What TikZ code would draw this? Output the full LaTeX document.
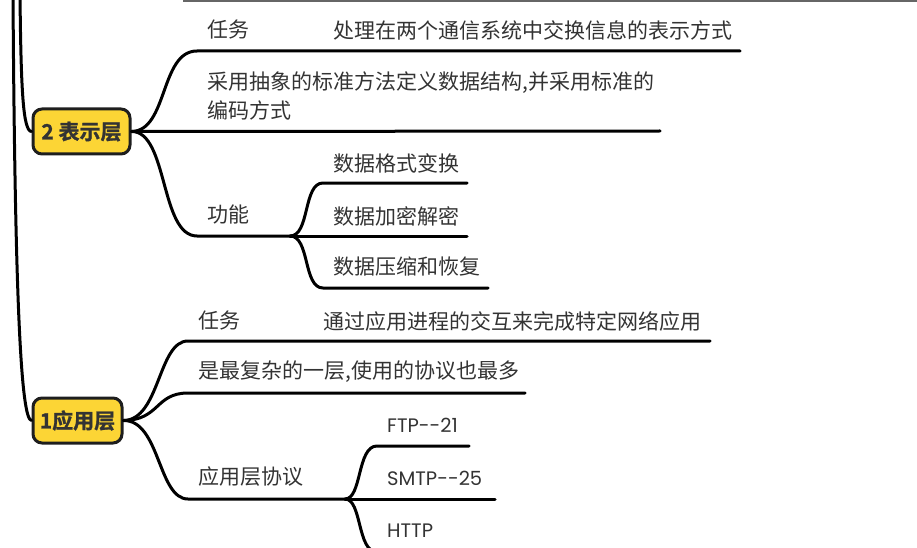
\documentclass[tikz,border=0pt]{standalone}
\usepackage{fontspec}
\setmainfont{Noto Sans CJK SC}
\newfontfamily\latinf{Poppins}
\newfontfamily\boldf{Noto Sans CJK SC Bold}[FakeBold=1.2]
\definecolor{txt}{HTML}{333333}
\definecolor{boxfill}{HTML}{FCD535}
\definecolor{boxline}{HTML}{1E1E1E}
\begin{document}
\begin{tikzpicture}[x=1pt,y=-1pt,
  lbl/.style={anchor=west,inner sep=0pt,text=txt,font=\fontsize{21}{27}\selectfont},
  lat/.style={anchor=west,inner sep=0pt,text=txt,font=\latinf\fontsize{19.5}{24}\selectfont},
  topic/.style={draw=boxline,line width=3pt,fill=boxfill,rounded corners=9pt,inner sep=0pt,
    text=txt,font=\boldf\fontsize{21}{24}\selectfont},
  br/.style={line width=3pt,black,line cap=round},
]
\useasboundingbox (0,0) rectangle (917,548);
\draw[gray!80!black,line width=2pt] (183,0.8) -- (917,0.8);

% topic boxes
\node[topic,minimum width=97pt,minimum height=45pt] (p2) at (81.5,131.5) {2 表示层};
\node[topic,minimum width=89pt,minimum height=45pt] (p1) at (77.5,420.5) {1应用层};

% left trunk lines
\coordinate (tA) at (20,-5);
\coordinate (tB) at (13,-5);
\draw[br] (tA) .. controls (21,90) and (23,131) .. (p2.west);
\draw[br] (tB) .. controls (15,300) and (21,420) .. (p1.west);

% ---------- 2 表示层 ----------
\coordinate (a1) at (197,51);  \coordinate (a1e) at (740,51);
\coordinate (a2e) at (660,131);
\coordinate (a3) at (197,236); \coordinate (f) at (290,236);
\draw[br] (p2.east) .. controls (168,131) and (160,51) .. (a1) -- (a1e);
\draw[br] (p2.east) -- (a2e);
\draw[br] (p2.east) .. controls (168,131) and (160,236) .. (a3) -- (f);

\node[lbl] (t1) at (207,30) {任务};
\node[lbl] (t1c) at (333,30) {处理在两个通信系统中交换信息的表示方式};
\node[lbl] (t2) at (207,83) {采用抽象的标准方法定义数据结构,并采用标准的};
\node[lbl] (t2b) at (207,110) {编码方式};
\node[lbl] (t3) at (207,215) {功能};

\coordinate (g1) at (323,183); \coordinate (g1e) at (467,183);
\coordinate (g2e) at (467,236);
\coordinate (g3) at (323,288); \coordinate (g3e) at (488,288);
\draw[br] (f) .. controls (310,236) and (303,183) .. (g1) -- (g1e);
\draw[br] (f) -- (g2e);
\draw[br] (f) .. controls (310,236) and (303,288) .. (g3) -- (g3e);
\node[lbl] (u1) at (333,163) {数据格式变换};
\node[lbl] (u2) at (333,216) {数据加密解密};
\node[lbl] (u3) at (333,267) {数据压缩和恢复};

% ---------- 1 应用层 ----------
\coordinate (b1) at (188,341); \coordinate (b1e) at (710,341);
\coordinate (b2) at (188,393); \coordinate (b2e) at (525,393);
\coordinate (b3) at (188,499); \coordinate (h) at (345,499);
\draw[br] (p1.east) .. controls (160,420) and (158,341) .. (b1) -- (b1e);
\draw[br] (p1.east) .. controls (160,420) and (155,393) .. (b2) -- (b2e);
\draw[br] (p1.east) .. controls (160,420) and (158,499) .. (b3) -- (h);

\node[lbl] (s1) at (198,321) {任务};
\node[lbl] (s1c) at (323,321) {通过应用进程的交互来完成特定网络应用};
\node[lbl] (s2) at (198,372) {是最复杂的一层,使用的协议也最多};
\node[lbl] (s3) at (198,477) {应用层协议};

\coordinate (k1) at (377,446); \coordinate (k1e) at (469,446);
\coordinate (k2e) at (495,499);
\coordinate (k3) at (377,552);
\draw[br] (h) .. controls (362,499) and (357,446) .. (k1) -- (k1e);
\draw[br] (h) -- (k2e);
\draw[br] (h) .. controls (362,499) and (357,552) .. (k3);
\node[lat] (v1) at (387,425) {FTP{-}{-}21};
\node[lat] (v2) at (387,478) {SMTP{-}{-}25};
\node[lat] (v3) at (387,531) {HTTP};
\end{tikzpicture}
\end{document}
